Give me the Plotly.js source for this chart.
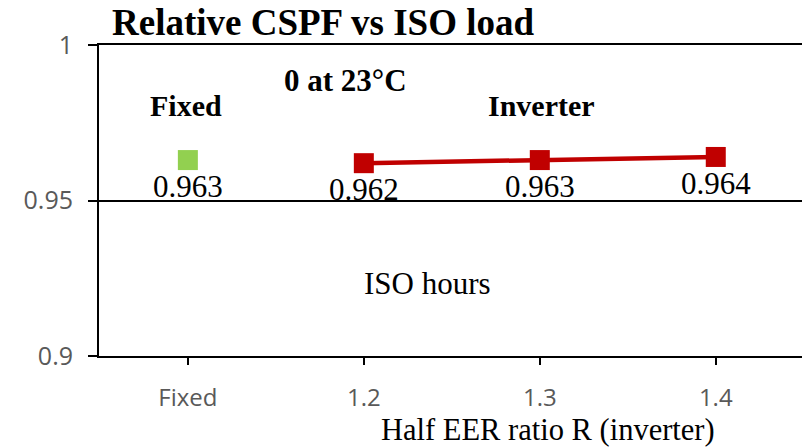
<!DOCTYPE html>
<html>
<head>
<meta charset="utf-8">
<script src="https://cdn.plot.ly/plotly-3.0.1.min.js"></script>
<style>html,body{margin:0;padding:0;background:#fff;}#chart{width:802px;height:448px;}</style>
</head>
<body>
<div id="chart"></div>
<script>
const categories = ['Fixed', '1.2', '1.3', '1.4'];
const fixedX = ['Fixed'];
const fixedY = [0.963];
const inverterX = ['1.2', '1.3', '1.4'];
const inverterY = [0.962, 0.963, 0.964];
const yTickVals = [0.9, 0.95, 1];
const yTickText = ['0.9', '0.95', '1'];

const serif = 'Liberation Serif, Times New Roman, serif';

const traces = [
  {
    x: fixedX, y: fixedY, type: 'scatter', mode: 'markers+text',
    marker: {symbol: 'square', size: 20, color: '#92D050'},
    text: fixedY.map(v => v.toFixed(3)), textposition: 'bottom center',
    textfont: {family: serif, size: 31, color: '#000'},
    showlegend: false, cliponaxis: false
  },
  {
    x: inverterX, y: inverterY, type: 'scatter', mode: 'lines+markers+text',
    line: {color: '#C00000', width: 4.5},
    marker: {symbol: 'square', size: 20, color: '#C00000'},
    text: inverterY.map(v => v.toFixed(3)), textposition: 'bottom center',
    textfont: {family: serif, size: 31, color: '#000'},
    showlegend: false, cliponaxis: false
  }
];

const layout = {
  width: 802, height: 448,
  margin: {l: 99, r: 0, t: 45, b: 92},
  paper_bgcolor: '#fff', plot_bgcolor: '#fff',
  title: {
    text: '<b>Relative CSPF vs ISO load</b>',
    font: {family: serif, size: 37, color: '#000'},
    x: 112 / 802, xanchor: 'left', xref: 'container',
    y: 1 - 22 / 448, yanchor: 'middle', yref: 'container'
  },
  xaxis: {
    type: 'category', categoryorder: 'array', categoryarray: categories,
    range: [-0.505, 3.49],
    showline: true, linecolor: '#000', linewidth: 2, mirror: true,
    ticks: 'outside', ticklen: 7, tickwidth: 2, tickcolor: '#000',
    showgrid: false, zeroline: false,
    tickfont: {family: 'Open Sans, sans-serif', size: 24, color: '#595959'},
    ticklabelstandoff: 12
  },
  yaxis: {
    range: [0.9, 1], tickvals: yTickVals, ticktext: yTickText,
    showline: true, linecolor: '#000', linewidth: 2,
    ticks: 'outside', ticklen: 9, tickwidth: 2, tickcolor: '#000',
    showgrid: true, gridcolor: '#000', gridwidth: 2, zeroline: false,
    tickfont: {family: 'Open Sans, sans-serif', size: 25, color: '#595959'},
    ticklabelstandoff: 10
  },
  annotations: [
    {text: '<b>Fixed</b>', x: 186 / 802, y: 1 - 106 / 448, xref: 'paper', yref: 'paper',
     showarrow: false, font: {family: serif, size: 30, color: '#000'}},
    {text: '<b>0 at 23°C</b>', x: 345 / 802, y: 1 - 80 / 448, xref: 'paper', yref: 'paper',
     showarrow: false, font: {family: serif, size: 31, color: '#000'}},
    {text: '<b>Inverter</b>', x: 541 / 802, y: 1 - 106 / 448, xref: 'paper', yref: 'paper',
     showarrow: false, font: {family: serif, size: 30, color: '#000'}},
    {text: 'ISO hours', x: 428 / 802, y: 1 - 283 / 448, xref: 'paper', yref: 'paper',
     showarrow: false, font: {family: serif, size: 31, color: '#000'}},
    {text: 'Half EER ratio R (inverter)', x: 548 / 802, y: 1 - 430 / 448, xref: 'paper', yref: 'paper',
     showarrow: false, font: {family: serif, size: 30.5, color: '#000'}}
  ]
};

// convert pixel annotation positions to paper coordinates relative to plot area
const plotL = 99, plotT = 45, plotW = 802 - 99, plotH = 448 - 45 - 92;
layout.annotations.forEach(a => {
  const px = a.x * 802, py = (1 - a.y) * 448;
  a.x = (px - plotL) / plotW;
  a.y = 1 - (py - plotT) / plotH;
  a.xanchor = 'center'; a.yanchor = 'middle';
});

Plotly.newPlot('chart', traces, layout, {displayModeBar: false, staticPlot: true});
</script>
</body>
</html>
